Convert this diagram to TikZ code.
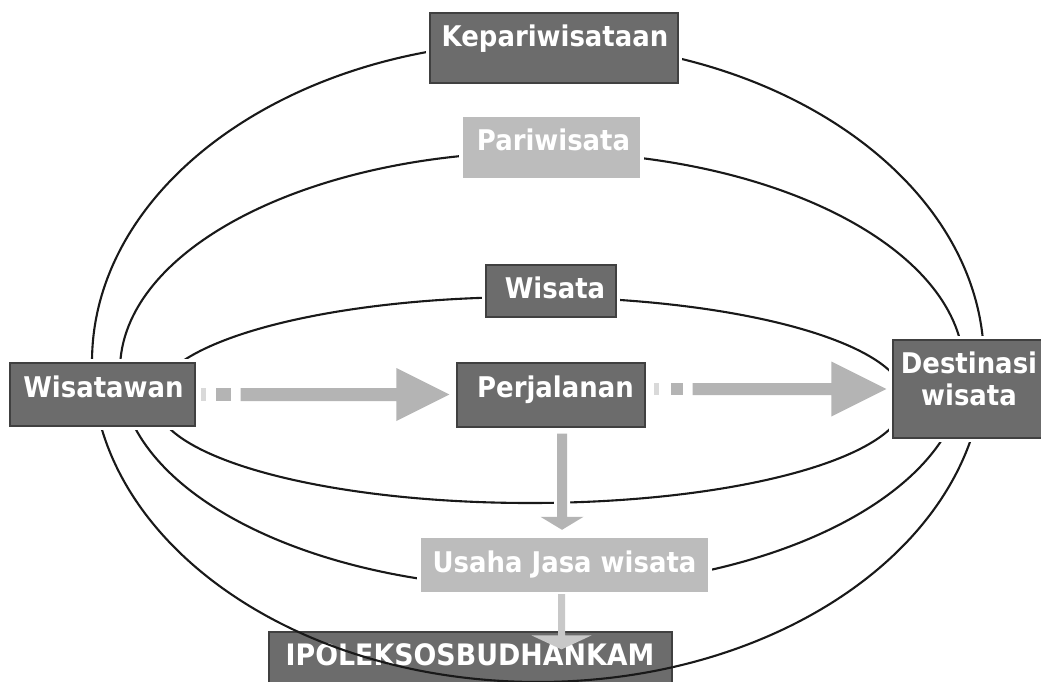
\documentclass[tikz,border=0pt]{standalone}
\usepackage{fontspec}
\setmainfont{DejaVu Sans}[FakeStretch=0.91]
\usetikzlibrary{calc}
\definecolor{boxdark}{RGB}{108,108,108}
\definecolor{boxlight}{RGB}{188,188,188}
\definecolor{arrowgray}{RGB}{180,180,180}
\definecolor{arrowlight}{RGB}{200,200,200}
\definecolor{linecol}{RGB}{25,25,25}
\begin{document}
\begin{tikzpicture}[x=1pt,y=-1pt,
  ring/.style={draw=linecol,line width=2.1pt},
  halo/.style={preaction={draw=white,line width=8pt}},
  thinhalo/.style={preaction={draw=white,line width=6pt}},
  darkbox/.style={rectangle,inner sep=0pt,fill=boxdark,draw=black!75,line width=1.2pt},
  lightbox/.style={rectangle,inner sep=0pt,fill=boxlight},
  lbl/.style={anchor=base,inner sep=0pt,text=white,font=\bfseries\fontsize{28.5}{32}\selectfont},
  arr/.style={fill=arrowgray}]
\useasboundingbox (0,0) rectangle (1041,682);
\clip (0,0) rectangle (1041,682);
\fill[white] (0,0) rectangle (1041,682);

% rings
\draw[ring] (538,362) ellipse [x radius=446pt, y radius=320pt];
\draw[ring] (542,370) ellipse [x radius=422pt, y radius=218pt];
\draw[ring] (530,400) ellipse [x radius=375pt, y radius=103pt];

% boxes
\node[darkbox,halo,minimum width=248,minimum height=70] (kep) at (554,48) {};
\node[lightbox,halo,minimum width=177,minimum height=61] (pari) at (551.5,147.5) {};
\node[darkbox,halo,minimum width=130,minimum height=52] (wisata) at (551,291) {};
\node[darkbox,halo,minimum width=185,minimum height=63] (wis) at (102.5,394.5) {};
\node[darkbox,halo,minimum width=188,minimum height=64] (perj) at (551,395) {};
\node[darkbox,halo,minimum width=152,minimum height=98] (dest) at (969,389) {};
\node[lightbox,halo,minimum width=287,minimum height=54] (usaha) at (564.5,565) {};
\node[darkbox,minimum width=403,minimum height=63] (ipol) at (470.5,663.5) {};

% texts
\node[lbl] (kep-t) at (555,47) {Kepariwisataan};
\node[lbl] (pari-t) at (553.5,150) {Pariwisata};
\node[lbl] (wisata-t) at (555,298) {Wisata};
\node[lbl] (wis-t) at (103.5,397) {Wisatawan};
\node[lbl] (perj-t) at (555.5,397) {Perjalanan};
\node[lbl] (dest-t1) at (969,373) {Destinasi};
\node[lbl] (dest-t2) at (969,405) {wisata};
\node[lbl] (usaha-t) at (564.5,572) {Usaha Jasa wisata};
\node[lbl,font=\bfseries\fontsize{29.5}{32}\selectfont] (ipol-t) at (470,665) {IPOLEKSOSBUDHANKAM};

% arrow Wisatawan -> Perjalanan
\coordinate (a1s) at ($(wis.east)+(5,0)$);
\coordinate (a1e) at ($(perj.west |- wis.east)+(-7,0)$);
\fill[arr,opacity=.5] ($(a1s)+(0,-6.5)$) rectangle ($(a1s)+(5,6.5)$);
\fill[arr] ($(a1s)+(15,-6.5)$) rectangle ($(a1s)+(30,6.5)$);
\fill[arr] ($(a1s)+(40,-6.5)$) -- ($(a1e)+(-53,-6.5)$) -- ($(a1e)+(-53,-26.5)$) -- (a1e)
  -- ($(a1e)+(-53,26.5)$) -- ($(a1e)+(-53,6.5)$) -- ($(a1s)+(40,6.5)$) -- cycle;

% arrow Perjalanan -> Destinasi wisata
\coordinate (a2s) at ($(perj.east |- dest.west)+(8,0)$);
\coordinate (a2e) at ($(dest.west)+(-6,0)$);
\fill[arr,opacity=.5] ($(a2s)+(0,-6)$) rectangle ($(a2s)+(5,6)$);
\fill[arr] ($(a2s)+(17,-6)$) rectangle ($(a2s)+(29,6)$);
\fill[arr] ($(a2s)+(39,-6)$) -- ($(a2e)+(-55,-6)$) -- ($(a2e)+(-55,-27.5)$) -- (a2e)
  -- ($(a2e)+(-55,27.5)$) -- ($(a2e)+(-55,6)$) -- ($(a2s)+(39,6)$) -- cycle;

% arrow Perjalanan -> Usaha Jasa wisata
\coordinate (a3s) at ($(perj.south)+(11,6)$);
\coordinate (a3e) at ($(a3s |- usaha.north)+(0,-8)$);
\fill[arr,thinhalo] ($(a3s)+(-5,0)$) -- ($(a3e)+(-5,-13)$) -- ($(a3e)+(-21.5,-13)$) -- (a3e)
  -- ($(a3e)+(21.5,-13)$) -- ($(a3e)+(5,-13)$) -- ($(a3s)+(5,0)$) -- cycle;

% ring crossing over the bottom box
\begin{scope}
\clip (ipol.north west) rectangle (ipol.south east);
\draw[ring] (538,362) ellipse [x radius=446pt, y radius=320pt];
\end{scope}

% arrow Usaha Jasa wisata -> IPOLEKSOSBUDHANKAM
\coordinate (a4s) at ($(usaha.south)+(-3,2)$);
\coordinate (a4e) at ($(a4s |- ipol.north)+(0,18)$);
\fill[fill=arrowlight] ($(a4s)+(-3.5,0)$) -- ($(a4e)+(-3.5,-14)$) -- ($(a4e)+(-30,-14)$) -- (a4e)
  -- ($(a4e)+(30,-14)$) -- ($(a4e)+(3.5,-14)$) -- ($(a4s)+(3.5,0)$) -- cycle;
\end{tikzpicture}
\end{document}
